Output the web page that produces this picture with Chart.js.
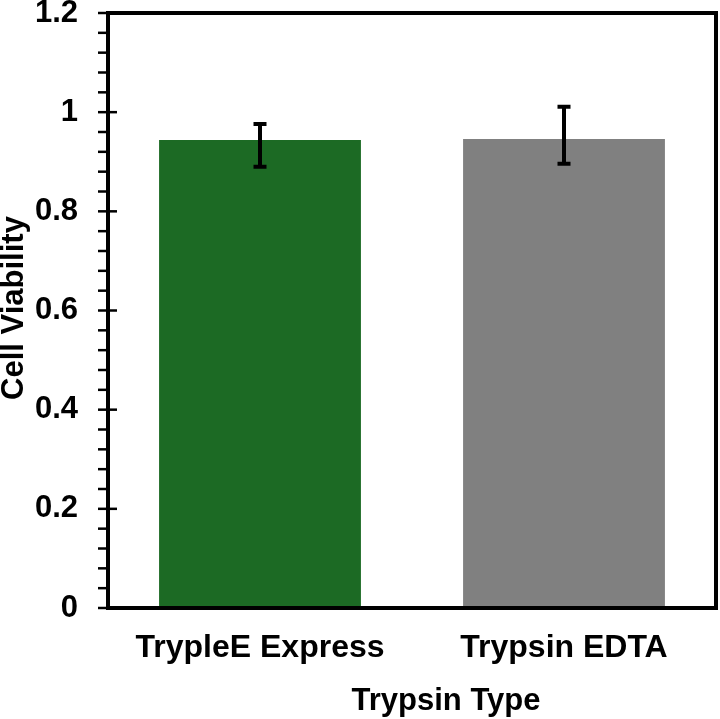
<!DOCTYPE html>
<html>
<head>
<meta charset="utf-8">
<script src="https://cdn.jsdelivr.net/npm/chart.js@4.4.0/dist/chart.umd.min.js"></script>
<style>
  html, body { margin: 0; padding: 0; background: #fff; }
  #wrap { width: 720px; height: 719px; position: relative; }
</style>
</head>
<body>
<div id="wrap"><canvas id="chart"></canvas></div>
<script>
// Chart data
const categories = ['TrypleE Express', 'Trypsin EDTA'];
const viability = [0.944, 0.946];
const errUpper = [0.976, 1.011];
const errLower = [0.890, 0.896];
const barColors = ['#1c6a24', '#808080'];
const yTicks = [0, 0.2, 0.4, 0.6, 0.8, 1, 1.2];
const xTitle = 'Trypsin Type';
const yTitle = 'Cell Viability';

const FONT = '"Liberation Sans", Arial, sans-serif';

// frame, tick marks, error bars and axis titles
const decorations = {
  id: 'decorations',
  afterDatasetsDraw(chart) {
    const { ctx, chartArea: a, scales: { x, y } } = chart;
    ctx.save();

    // error bars
    ctx.strokeStyle = '#000';
    ctx.lineWidth = 4;
    ctx.lineCap = 'butt';
    categories.forEach((c, i) => {
      const cx = x.getPixelForValue(i);
      const yt = y.getPixelForValue(errUpper[i]);
      const yb = y.getPixelForValue(errLower[i]);
      ctx.beginPath();
      ctx.moveTo(cx, yt); ctx.lineTo(cx, yb);
      ctx.moveTo(cx - 6.5, yt); ctx.lineTo(cx + 6.5, yt);
      ctx.moveTo(cx - 6.5, yb); ctx.lineTo(cx + 6.5, yb);
      ctx.stroke();
    });

    // minor + major ticks on the y axis
    ctx.lineWidth = 2.5;
    for (let k = 0; k <= 30; k++) {
      const v = k * 0.04;
      const py = y.getPixelForValue(v);
      const major = k % 5 === 0;
      ctx.beginPath();
      ctx.moveTo(a.left - 10, py);
      ctx.lineTo(major ? a.left + 9 : a.left, py);
      ctx.stroke();
    }

    // frame
    ctx.lineWidth = 4;
    ctx.strokeRect(a.left, a.top, a.right - a.left, a.bottom - a.top);

    // axis titles
    ctx.fillStyle = '#000';
    ctx.font = 'bold 31px ' + FONT;
    ctx.textAlign = 'center';
    ctx.textBaseline = 'alphabetic';
    ctx.fillText(xTitle, 446, 710);
    ctx.translate(14, 308);
    ctx.rotate(-Math.PI / 2);
    ctx.textBaseline = 'middle';
    ctx.fillText(yTitle, 0, 0);
    ctx.restore();
  }
};

new Chart(document.getElementById('chart'), {
  type: 'bar',
  data: {
    labels: categories,
    datasets: [{
      data: viability,
      backgroundColor: barColors,
      borderWidth: 0,
      barPercentage: 0.664,
      categoryPercentage: 1
    }]
  },
  options: {
    responsive: true,
    maintainAspectRatio: false,
    animation: false,
    layout: { padding: { top: 13, right: 4, left: 0, bottom: 0 } },
    plugins: {
      legend: { display: false },
      tooltip: { enabled: false }
    },
    scales: {
      x: {
        grid: { display: false, drawTicks: false },
        border: { display: false },
        ticks: {
          color: '#000',
          padding: 21,
          font: { family: FONT, size: 32, weight: 'bold' }
        },
        afterFit(scale) { scale.height = 111; }
      },
      y: {
        min: 0,
        max: 1.2,
        afterBuildTicks(scale) { scale.ticks = yTicks.map(v => ({ value: v })); },
        grid: { display: false, drawTicks: false },
        border: { display: false },
        ticks: {
          color: '#000',
          padding: 30,
          font: { family: FONT, size: 31, weight: 'bold' },
          callback: v => String(Math.round(v * 10) / 10)
        },
        afterFit(scale) {
          scale.width = 108;
          scale.paddingTop = 0;
          scale.paddingBottom = 0;
        }
      }
    }
  },
  plugins: [decorations]
});
</script>
</body>
</html>
